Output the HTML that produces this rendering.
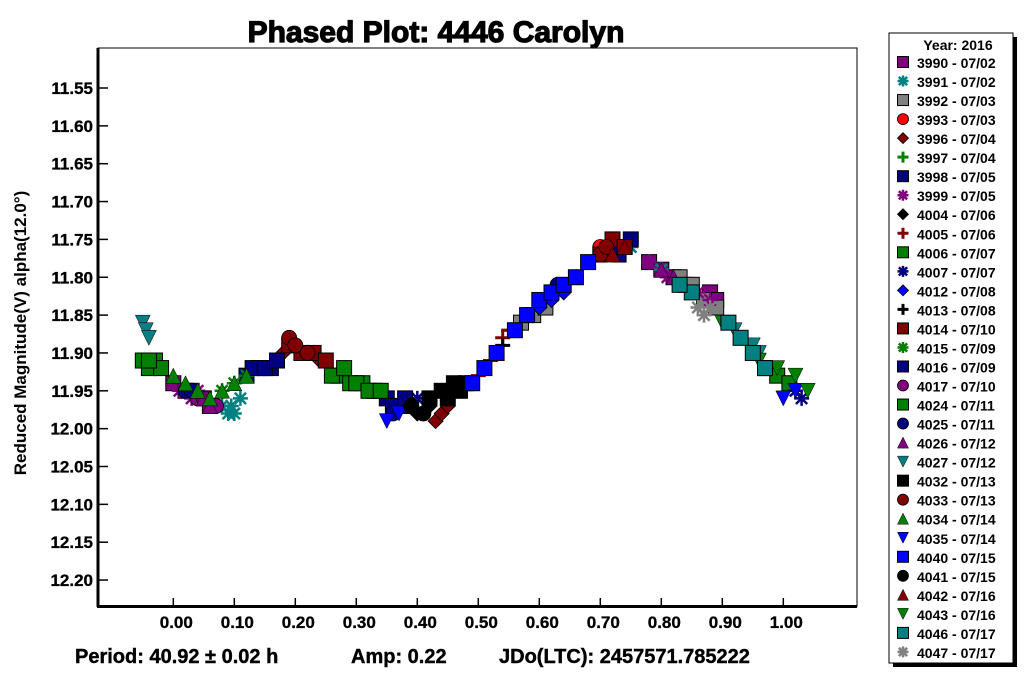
<!DOCTYPE html>
<html><head><meta charset="utf-8"><style>
body{margin:0;background:#fff;}
svg{display:block;font-family:"Liberation Sans",sans-serif;font-weight:bold;}
</style></head><body>
<svg id="chart" width="1024" height="675" viewBox="0 0 1024 675">
<text x="436" y="42" text-anchor="middle" font-size="30" stroke="#000" stroke-width="1.2">Phased Plot: 4446 Carolyn</text>
<text transform="translate(26,333) rotate(-90)" text-anchor="middle" font-size="17">Reduced Magnitude(V) alpha(12.0°)</text>
<text x="75" y="663" font-size="20" stroke="#000" stroke-width="0.4">Period: 40.92 ± 0.02 h</text>
<text x="351" y="663" font-size="20" stroke="#000" stroke-width="0.4">Amp: 0.22</text>
<text x="499" y="663" font-size="20" stroke="#000" stroke-width="0.4">JDo(LTC): 2457571.785222</text>
<rect x="98" y="48" width="759" height="558.5" fill="none" stroke="#000" stroke-width="1"/>
<line x1="98" y1="48" x2="98" y2="607" stroke="#000" stroke-width="3"/>
<line x1="97" y1="606.5" x2="857" y2="606.5" stroke="#000" stroke-width="3"/>
<g id="axes"></g>
<g id="marks"></g>
<rect x="893" y="37" width="124" height="630" fill="#000"/>
<rect x="889" y="33" width="124" height="630" fill="#fff" stroke="#000" stroke-width="1"/>
<text x="958" y="50" text-anchor="middle" font-size="14">Year: 2016</text>
<g id="legend"></g>
</svg>
<script>
const xTicks=[0,0.1,0.2,0.3,0.4,0.5,0.6,0.7,0.8,0.9,1.0];
const yTicks=[11.55,11.60,11.65,11.70,11.75,11.80,11.85,11.90,11.95,12.00,12.05,12.10,12.15,12.20];
const sessionIds=['3990','3991','3992','3993','3996','3997','3998','3999','4004','4005','4006','4007','4012','4013','4014','4015','4016','4017','4024','4025','4026','4027','4032','4033','4034','4035','4040','4041','4042','4043','4046','4047'];
const sessionDates=['07/02','07/02','07/03','07/03','07/04','07/04','07/05','07/05','07/06','07/06','07/07','07/07','07/08','07/08','07/10','07/09','07/09','07/10','07/11','07/11','07/12','07/12','07/13','07/13','07/14','07/14','07/15','07/15','07/16','07/16','07/17','07/17'];
const sessionShapes=['sq','ast','sq','circ','dia','plus','sq','ast','dia','plus','sq','ast','dia','plus','sq','ast','sq','circ','sq','circ','tri','dtri','sq','circ','tri','dtri','sq','circ','tri','dtri','sq','ast'];
const sessionColors=['#800080','#008080','#808080','#ff0000','#800000','#008000','#000080','#800080','#000000','#800000','#008000','#000080','#0000ff','#000000','#800000','#008000','#000080','#800080','#008000','#000080','#800080','#008080','#000000','#800000','#008000','#0000ff','#0000ff','#000000','#800000','#008000','#008080','#808080'];
const phases=[
[0.00,0.02,0.03,0.05,0.06,0.78,0.80,0.82,0.84,0.88,0.89],
[0.08,0.09,0.10,0.095,0.11,0.72,0.75,0.78,0.80,0.83,0.85],
[0.57,0.59,0.61,0.83,0.85,0.87,0.89],
[0.70,0.71,0.72],
[0.18,0.20,0.22,0.24,0.43,0.44,0.45],
[0.55,0.58,0.60,0.62],
[0.12,0.14,0.16,0.35,0.37,0.39,0.73,0.75],
[0.01,0.03,0.04,0.06,0.78,0.81,0.83,0.86,0.88],
[0.38,0.40,0.42],
[0.50,0.52,0.54,0.55],
[-0.05,-0.04,-0.03,-0.02,0.27,0.29,0.31,0.33,0.97,0.99,1.01],
[0.36,0.38,0.40,1.02,1.03],
[0.60,0.62,0.64],
[0.53,0.54,0.56],
[0.19,0.21,0.23,0.25,0.70,0.72,0.74],
[0.08,0.10,0.12,0.15,0.17],
[0.13,0.15,0.17,0.36,0.38],
[0.04,0.05,0.07],
[-0.04,0.26,0.28,0.30,0.32,0.34],
[0.02,0.03,0.36,0.63,0.66],
[0.05,0.06,0.80,0.82],
[-0.05,-0.045,-0.04,0.92,0.95,0.96],
[0.42,0.44,0.46,0.47,0.48,0.45],
[0.19,0.20,0.22,0.70,0.71],
[0.00,0.02,0.04,0.06,0.08,0.10,0.12],
[0.35,0.37,0.39,1.00,1.02],
[0.49,0.51,0.53,0.56,0.58,0.60,0.62,0.64,0.66,0.68],
[0.39,0.41],
[0.72,0.74],
[0.90,0.93,0.96,0.99,1.02,1.04],
[0.91,0.93,0.95,0.97,0.85,0.83],
[0.86,0.87,0.88]];
const mags=[
[11.94,11.95,11.95,11.96,11.97,11.78,11.79,11.80,11.81,11.82,11.83],
[11.97,11.98,11.98,11.97,11.96,11.75,11.76,11.78,11.79,11.81,11.82],
[11.86,11.85,11.84,11.80,11.81,11.83,11.84],
[11.76,11.77,11.76],
[11.90,11.89,11.90,11.91,11.99,11.98,11.97],
[11.87,11.85,11.84,11.83],
[11.93,11.92,11.92,11.96,11.97,11.97,11.77,11.75],
[11.95,11.96,11.95,11.97,11.78,11.80,11.81,11.82,11.83],
[11.97,11.98,11.97],
[11.93,11.91,11.88,11.87],
[11.91,11.92,11.91,11.92,11.93,11.94,11.94,11.95,11.92,11.93,11.94],
[11.98,11.97,11.96,11.95,11.96],
[11.84,11.83,11.82],
[11.90,11.89,11.87],
[11.89,11.90,11.90,11.91,11.77,11.75,11.76],
[11.95,11.94,11.93,11.92,11.91],
[11.92,11.92,11.91,11.97,11.96],
[11.96,11.96,11.97],
[11.91,11.93,11.92,11.94,11.95,11.95],
[11.95,11.95,11.98,11.81,11.80],
[11.96,11.97,11.79,11.80],
[11.86,11.87,11.88,11.87,11.89,11.90],
[11.96,11.95,11.94,11.95,11.94,11.96],
[11.88,11.89,11.90,11.77,11.76],
[11.93,11.94,11.95,11.96,11.95,11.94,11.93],
[11.99,11.98,11.97,11.96,11.95],
[11.94,11.92,11.90,11.87,11.85,11.83,11.82,11.81,11.80,11.78],
[11.97,11.98],
[11.77,11.76],
[11.86,11.88,11.91,11.92,11.93,11.95],
[11.86,11.88,11.90,11.92,11.82,11.81],
[11.84,11.85,11.84]];

const NS='http://www.w3.org/2000/svg';
function xS(p){return 173.3+p*610;}
function yS(m){return 88+(m-11.55)*757;}
function mk(tag,attrs,parent){const e=document.createElementNS(NS,tag);for(const k in attrs)e.setAttribute(k,attrs[k]);parent.appendChild(e);return e;}
function marker(shape,color,cx,cy,r,parent){
  let e;
  if(shape==='sq')e=mk('rect',{x:cx-r,y:cy-r,width:2*r,height:2*r,fill:color,stroke:'#000','stroke-width':1},parent);
  else if(shape==='circ')e=mk('circle',{cx:cx,cy:cy,r:r,fill:color,stroke:'#000','stroke-width':0.8},parent);
  else if(shape==='dia')e=mk('polygon',{points:`${cx},${cy-r} ${cx+r},${cy} ${cx},${cy+r} ${cx-r},${cy}`,fill:color,stroke:'#000','stroke-width':0.8},parent);
  else if(shape==='tri')e=mk('polygon',{points:`${cx},${cy-r} ${cx+r},${cy+r} ${cx-r},${cy+r}`,fill:color,stroke:'#000','stroke-width':0.5},parent);
  else if(shape==='dtri')e=mk('polygon',{points:`${cx-r},${cy-r} ${cx+r},${cy-r} ${cx},${cy+r}`,fill:color,stroke:'#000','stroke-width':0.5},parent);
  else if(shape==='plus')e=mk('path',{d:`M${cx-r},${cy}H${cx+r}M${cx},${cy-r}V${cy+r}`,stroke:color,'stroke-width':3},parent);
  else e=mk('path',{d:`M${cx-r},${cy}H${cx+r}M${cx},${cy-r}V${cy+r}M${cx-r*0.75},${cy-r*0.75}L${cx+r*0.75},${cy+r*0.75}M${cx-r*0.75},${cy+r*0.75}L${cx+r*0.75},${cy-r*0.75}`,stroke:color,'stroke-width':2.5},parent);
  return e;
}
const ax=document.getElementById('axes');
xTicks.forEach(t=>{
  const l=mk('line',{x1:xS(t),x2:xS(t),y1:606,y2:598,stroke:'#000','stroke-width':1.5},ax);
  
  
  const tx=mk('text',{x:xS(t)+3,y:628,'text-anchor':'middle','font-size':17,stroke:'#000','stroke-width':0.3},ax);
  tx.textContent=t.toFixed(2);
  
  
});
yTicks.forEach(t=>{
  const l=mk('line',{x1:98,x2:108,y1:yS(t),y2:yS(t),stroke:'#000','stroke-width':1.5},ax);
  
  
  const tx=mk('text',{x:93,y:yS(t)+6,'text-anchor':'end','font-size':17,stroke:'#000','stroke-width':0.3},ax);
  tx.textContent=t.toFixed(2);
  
  
});
const mg=document.getElementById('marks');
sessionIds.forEach((id,i)=>{
  const g=mk('g',{},mg);
  
  
  phases[i].forEach((p,j)=>{
    const m=marker(sessionShapes[i],sessionColors[i],xS(p),yS(mags[i][j]),7.5,g);
    
    
  });
});
const lg=document.getElementById('legend');
sessionIds.forEach((id,i)=>{
  const y=63+i*19.03;
  const g=mk('g',{},lg);
  
  
  marker(sessionShapes[i],sessionColors[i],903,y-1,5.5,g);
  const t=mk('text',{x:917,y:y+5,'font-size':14},g);
  t.textContent=id+' - '+sessionDates[i];
});
</script>
</body></html>
